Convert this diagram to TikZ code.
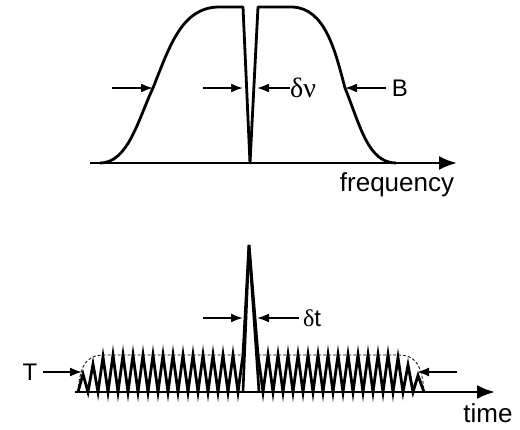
\documentclass[tikz,border=0pt]{standalone}
\usepackage{fontspec}
\setmainfont{Liberation Sans}
\newfontfamily\greek{Liberation Serif}
\usetikzlibrary{arrows.meta}

\begin{document}
\begin{tikzpicture}[
x=1pt, y=-1pt,
every node/.style={
inner sep=0pt,
font=\fontsize{24}{28}\selectfont
},
axis/.style={line width=2.6pt, -{Latex[length=18pt,width=14pt]}},
marker/.style={line width=1.8pt, -{Latex[length=12pt,width=9pt]}},
curve/.style={line width=2.8pt, line join=round}
]
\useasboundingbox (0,0) rectangle (520,429);

% spectrum
\draw[axis] (90,163) -- (457,163);
\draw[curve] (100,163) .. controls (128,163) and (138,120) .. (153,88)
.. controls (170,45) and (182,8) .. (218,7) -- (243,7) -- (250,163)
-- (258,7) -- (292,7) .. controls (325,8) and (335,50) .. (345,88)
.. controls (360,125) and (368,163) .. (396,163);

\coordinate (bandL) at (153,88);
\coordinate (notchL) at (243,88);
\coordinate (notchR) at (257,88);
\coordinate (bandR) at (345,88);

\node (dnu) at (303,88) {\fontsize{28}{30}\selectfont\greek δν};
\node (B) at (400,88) {B};
\node (freq) at (397,185) {\fontsize{26}{30}\selectfont frequency};

\draw[marker] (112,88) -- (bandL);
\draw[marker] (203,88) -- (notchL);
\draw[marker] (dnu.west) -- (notchR);
\draw[marker, shorten <=6pt] (B.west) -- (bandR);

% pulse train
\draw[axis] (75,392) -- (495,392);
\draw[line width=0.8pt, densely dashed] (78,392) .. controls (80,360) and (90,355) .. (105,355)
-- (243,355) (258,355) -- (398,355) .. controls (412,355) and (422,360) .. (424,392);
\draw[line width=2.8pt, line join=miter]
(78,392) \foreach \i in {0,...,15} {
-- ({83+10*\i},{392-37*min(1,sqrt((83+10*\i-76)/30))}) -- ({88+10*\i},392)}
-- (243,355) -- (249,245) -- (258,355)
\foreach \i in {0,...,15} {
-- ({263+10*\i},392) -- ({268+10*\i},{392-37*min(1,sqrt((424-268-10*\i)/30))})}
-- (424,392);
\draw[line width=2.6pt] (243,392) -- (249,245) -- (259,392);

\coordinate (spikeL) at (243,318);
\coordinate (spikeR) at (257,318);
\coordinate (trainL) at (82,372);
\coordinate (trainR) at (417,372);

\node (dt) at (312,318) {{\greek δ}t};
\node (T) at (30,372) {T};
\node (time) at (488,413) {\fontsize{26}{30}\selectfont time};

\draw[marker] (203,318) -- (spikeL);
\draw[marker, shorten <=4pt] (dt.west) -- (spikeR);
\draw[marker, shorten <=5pt] (T.east) -- (trainL);
\draw[marker] (457,372) -- (trainR);

\end{tikzpicture}
\end{document}
